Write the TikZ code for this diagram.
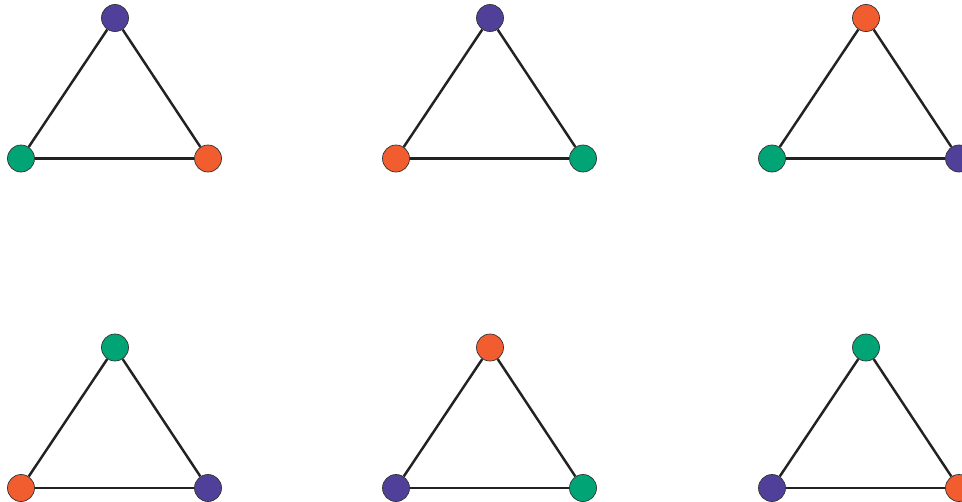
\documentclass[tikz,border=0pt]{standalone}
\definecolor{vpurple}{HTML}{51409A}
\definecolor{vgreen}{HTML}{00A475}
\definecolor{vorange}{HTML}{F15D2F}
\definecolor{edgegray}{HTML}{222222}
\begin{document}
\begin{tikzpicture}[x=0.03cm,y=-0.03cm]
\tikzset{vtx/.style={circle,draw=black!80,line width=0.6pt,fill=#1,minimum size=0.81cm,inner sep=0pt},
  edge/.style={draw=edgegray,line width=2.1pt}}
\useasboundingbox (0,0) rectangle (962,501);
\foreach \dx/\dy/\ct/\cl/\cr [count=\i] in {0/0/vpurple/vgreen/vorange,
    375/0/vpurple/vorange/vgreen, 751/0/vorange/vgreen/vpurple,
    0/329.5/vgreen/vorange/vpurple, 375/329.5/vorange/vpurple/vgreen,
    751/329.5/vgreen/vpurple/vorange}{
  \node[vtx=\ct] (t\i) at (115+\dx,18+\dy) {};
  \node[vtx=\cl] (l\i) at (21+\dx,158.5+\dy) {};
  \node[vtx=\cr] (r\i) at (208+\dx,158.5+\dy) {};
  \draw[edge] (t\i)--(l\i);
  \draw[edge] (l\i)--(r\i);
  \draw[edge] (r\i)--(t\i);
}
\end{tikzpicture}
\end{document}
